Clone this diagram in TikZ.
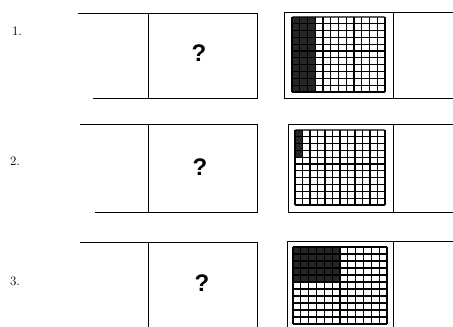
\documentclass[tikz,border=0pt]{standalone}
\usepackage{fontspec}
\newfontfamily\qfont{Liberation Sans}
\begin{document}
\begin{tikzpicture}[x=1pt, y=1pt, line width=1pt,
  qmark/.style={font=\qfont\bfseries\fontsize{24}{24}\selectfont},
  rowlabel/.style={font=\fontsize{13}{13}\selectfont},
  gridbox/.style={line width=1.4pt, rounded corners=1pt},
  gridlines/.style={line width=1.2pt}]
  \useasboundingbox (0,0) rectangle (453,327);
  % row 1
  \draw (78,313) -- (257,313) -- (257,228) -- (93,228);
  \draw (148,313) -- (148,228);
  \draw (284,228) rectangle (393,314);
  \draw (393,314) -- (453,314);
  \draw (393,228) -- (453,228);
  \node[rowlabel] (n1) at (17,296) {1.};
  \node[qmark] (q1) at (199,274) {?};
  \begin{scope}[shift={(292,235)}]
    \fill[black!85] (0,0) rectangle (23.25,75);
    \draw[gridlines, xstep=7.75, ystep=6.82] (0,0) grid (93,75);
    \draw[gridbox] (0,0) rectangle (93,75);
  \end{scope}
  % row 2
  \draw (80,202) -- (257,202) -- (257,114) -- (95,114);
  \draw (148,202) -- (148,114);
  \draw (288,114) rectangle (393,202);
  \draw (393,202) -- (453,202);
  \draw (393,114) -- (453,114);
  \node[rowlabel] (n2) at (15,166) {2.};
  \node[qmark] (q2) at (200,160) {?};
  \begin{scope}[shift={(295,122)}]
    \fill[black!85] (0,47.7) rectangle (7.5,75);
    \draw[gridlines, xstep=7.5, ystep=6.82] (0,0) grid (90,75);
    \draw[gridbox] (0,0) rectangle (90,75);
  \end{scope}
  % row 3 (cut off at the bottom)
  \draw (80,84) -- (257,84) -- (257,-2);
  \draw (148,84) -- (148,-2);
  \draw (287,-2) -- (287,85) -- (453,85);
  \draw (393,85) -- (393,-2);
  \node[rowlabel] (n3) at (15,46) {3.};
  \node[qmark] (q3) at (202,44) {?};
  \begin{scope}[shift={(293,3)}]
    \fill[black!85] (0,42) rectangle (47,77);
    \draw[gridlines, xstep=7.83, ystep=7] (0,0) grid (94,77);
    \draw[gridbox] (0,0) rectangle (94,77);
  \end{scope}
\end{tikzpicture}
\end{document}
